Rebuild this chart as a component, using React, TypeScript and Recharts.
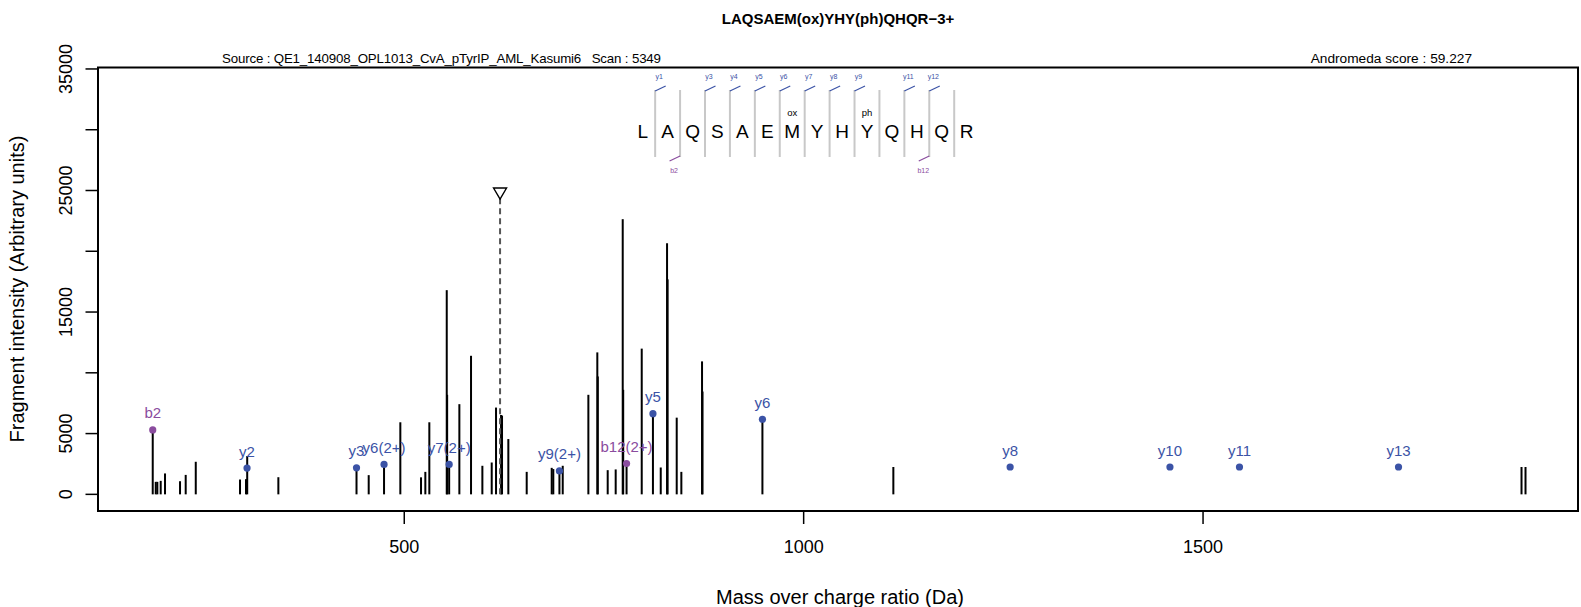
import React from 'react';
import { ComposedChart, Bar, Scatter, XAxis, YAxis, ReferenceLine } from 'recharts';

const FONT = '"Liberation Sans", Arial, Helvetica, sans-serif';
const BLUE = '#3B53A6';
const PURPLE = '#8A4C9E';

// fragment peaks (m/z, intensity)
const peakMz = [
  185.13, 188.9, 190.9, 195.1, 200.5, 219.3, 226.4, 239.0, 294.4, 301.9, 303.4, 342.4,
  440.24, 455.5, 474.7, 495.1, 521.0, 526.4, 531.4, 553.2, 553.7, 556.23, 569.0, 583.6,
  597.8, 609.5, 614.9, 621.2, 622.4, 630.3, 653.3, 684.6, 686.6, 694.27, 698.4, 730.5,
  741.7, 742.3, 754.7, 764.7, 773.5, 774.1, 778.31, 797.3, 811.33, 821.1, 829.0, 829.7,
  841.1, 846.9, 872.8, 873.4, 948.39, 1112.3, 1898.7, 1903.7,
];
const peakIntensity = [
  5300, 1030, 1030, 1110, 1720, 1080, 1600, 2680, 1220, 1250, 3150, 1410,
  2180, 1580, 2460, 5930, 1400, 1850, 5930, 16800, 8190, 2460, 7420, 11400,
  2350, 2620, 7140, 6530, 6480, 4550, 1850, 2180, 2080, 1930, 2350, 8190,
  11680, 9700, 1990, 2050, 22640, 8600, 2540, 11990, 6640, 2210, 20660, 17690,
  6310, 1850, 10940, 8460, 6180, 2250, 2250, 2250,
];

// matched ions
const ionLabels = ['b2', 'y2', 'y3', 'y6(2+)', 'y7(2+)', 'y9(2+)', 'b12(2+)', 'y5', 'y6', 'y8', 'y10', 'y11', 'y13'];
const ionMz = [185.13, 303.18, 440.24, 474.7, 556.23, 694.27, 778.31, 811.33, 948.39, 1258.49, 1458.57, 1545.6, 1744.7];
const ionIntensity = [5300, 2160, 2180, 2460, 2460, 1930, 2540, 6640, 6180, 2250, 2250, 2250, 2250];

const precursorMz = 619.93;
const precursorMark = 24750;

const xTicks = [500, 1000, 1500];
const yTicks = [0, 5000, 10000, 15000, 20000, 25000, 30000, 35000];
const yTickLabels = [0, 5000, 15000, 25000, 35000];

// sequence annotation
const residues = ['L', 'A', 'Q', 'S', 'A', 'E', 'M', 'Y', 'H', 'Y', 'Q', 'H', 'Q', 'R'];
const mods: Record<number, string> = { 6: 'ox', 9: 'ph' };
const yBreaks = [0, 2, 3, 4, 5, 6, 7, 8, 10, 11];
const yBreakLabels = ['y1', 'y3', 'y4', 'y5', 'y6', 'y7', 'y8', 'y9', 'y11', 'y12'];
const bBreaks = [1, 11];
const bBreakLabels = ['b2', 'b12'];

const W = 1581;
const H = 607;
const PLOT = { left: 98, top: 67.5, right: 1578, bottom: 511 };

const peaks = peakMz.map((mz, i) => ({ mz, intensity: peakIntensity[i] }));
const ions = ionMz.map((mz, i) => ({
  mz,
  intensity: ionIntensity[i],
  label: ionLabels[i],
  kind: ionLabels[i][0],
}));
const precursor = [{ mz: precursorMz, intensity: precursorMark }];

// stick: a 2px line centred on the bar's x position
function Stick(props: any) {
  const { x, y, width, height } = props;
  if (height == null || !isFinite(height)) return null;
  const cx = x + width / 2;
  return <rect x={cx - 1} y={y} width={2} height={height} fill="#000" />;
}

function IonDot(props: any) {
  const { cx, cy, payload } = props;
  const color = payload.kind === 'b' ? PURPLE : BLUE;
  return (
    <g>
      <circle cx={cx} cy={cy} r={3.6} fill={color} />
      <text x={cx} y={cy - 17} textAnchor="middle" dominantBaseline="central" fontSize={15} fontFamily={FONT} fill={color}>
        {payload.label}
      </text>
    </g>
  );
}

function Triangle(props: any) {
  const { cx, cy } = props;
  return (
    <polygon
      points={`${cx - 6.5},${cy - 5.5} ${cx + 6.5},${cy - 5.5} ${cx},${cy + 5.5}`}
      fill="#fff"
      stroke="#000"
      strokeWidth={1.4}
    />
  );
}

function YTick(props: any) {
  const { x, y, payload } = props;
  if (!yTickLabels.includes(payload.value)) return null;
  const tx = x - 19;
  return (
    <text x={tx} y={y} transform={`rotate(-90 ${tx} ${y})`} textAnchor="middle" dominantBaseline="central" fontSize={18} fontFamily={FONT} fill="#000">
      {payload.value}
    </text>
  );
}

function SequenceAnnotation() {
  const x0 = 642.7;
  const step = 24.92;
  const sepX = (i: number) => x0 + step * (i + 0.5);
  return (
    <g fontFamily={FONT}>
      {residues.slice(0, -1).map((_, i) => (
        <line key={'s' + i} x1={sepX(i)} x2={sepX(i)} y1={90} y2={157} stroke="#C8C8C8" strokeWidth={2} />
      ))}
      {residues.map((r, i) => (
        <text key={'r' + i} x={x0 + step * i} y={131} textAnchor="middle" dominantBaseline="central" fontSize={19} fill="#000">
          {r}
        </text>
      ))}
      {Object.keys(mods).map((k) => (
        <text key={'m' + k} x={x0 + step * Number(k)} y={112} textAnchor="middle" dominantBaseline="central" fontSize={9.5} fill="#000">
          {mods[Number(k)]}
        </text>
      ))}
      {yBreaks.map((b, i) => (
        <g key={'y' + b}>
          <line x1={sepX(b)} y1={91} x2={sepX(b) + 10.5} y2={86} stroke={BLUE} strokeWidth={1.2} />
          <text x={sepX(b) + 4} y={76} textAnchor="middle" dominantBaseline="central" fontSize={7} fill={BLUE}>
            {yBreakLabels[i]}
          </text>
        </g>
      ))}
      {bBreaks.map((b, i) => (
        <g key={'b' + b}>
          <line x1={sepX(b)} y1={156} x2={sepX(b) - 10.5} y2={161} stroke={PURPLE} strokeWidth={1.2} />
          <text x={sepX(b) - 6} y={170} textAnchor="middle" dominantBaseline="central" fontSize={7} fill={PURPLE}>
            {bBreakLabels[i]}
          </text>
        </g>
      ))}
    </g>
  );
}

export default function App() {
  return (
    <div style={{ position: 'absolute', left: 0, top: 0, width: W, height: H, background: '#fff', fontFamily: FONT }}>
      <ComposedChart
        width={W}
        height={H}
        data={peaks}
        margin={{ top: PLOT.top, right: W - PLOT.right, left: 0, bottom: 0 }}
      >
        <XAxis
          dataKey="mz"
          type="number"
          domain={[116.6, 1969.4]}
          allowDataOverflow
          ticks={xTicks}
          height={H - PLOT.bottom}
          tickSize={13}
          tickMargin={16}
          axisLine={false}
          tickLine={{ stroke: '#000', strokeWidth: 1.5 }}
          tick={{ fontSize: 18, fill: '#000', fontFamily: FONT }}
        />
        <YAxis
          dataKey="intensity"
          type="number"
          domain={[-1370, 35120]}
          allowDataOverflow
          ticks={yTicks}
          width={PLOT.left}
          tickSize={12.5}
          tickMargin={0}
          axisLine={false}
          tickLine={{ stroke: '#000', strokeWidth: 1.5 }}
          tick={<YTick />}
          interval={0}
        />
        <Bar dataKey="intensity" fill="#000" barSize={2} shape={<Stick />} isAnimationActive={false} />
        <ReferenceLine
          segment={[{ x: precursorMz, y: 0 }, { x: precursorMz, y: precursorMark }]}
          stroke="#555"
          strokeWidth={2}
          strokeDasharray="6 4"
        />
        <Scatter data={precursor} dataKey="intensity" shape={<Triangle />} isAnimationActive={false} />
        <Scatter data={ions} dataKey="intensity" shape={<IonDot />} isAnimationActive={false} />
      </ComposedChart>
      <svg width={W} height={H} style={{ position: 'absolute', left: 0, top: 0, pointerEvents: 'none' }}>
        <rect
          x={PLOT.left}
          y={PLOT.top}
          width={PLOT.right - PLOT.left}
          height={PLOT.bottom - PLOT.top}
          fill="none"
          stroke="#000"
          strokeWidth={2}
        />
        <text x={838} y={18} textAnchor="middle" dominantBaseline="central" fontSize={15} fontWeight="bold" fontFamily={FONT}>
          LAQSAEM(ox)YHY(ph)QHQR−3+
        </text>
        <text
          x={222}
          y={58.5}
          dominantBaseline="central"
          fontSize={13.3}
          fontFamily={FONT}
          xmlSpace="preserve"
          textLength={439}
          lengthAdjust="spacing"
        >
          {'Source : QE1_140908_OPL1013_CvA_pTyrIP_AML_Kasumi6   Scan : 5349'}
        </text>
        <text x={1472} y={58.5} textAnchor="end" dominantBaseline="central" fontSize={13.7} fontFamily={FONT}>
          Andromeda score : 59.227
        </text>
        <SequenceAnnotation />
        <text x={840} y={597} textAnchor="middle" dominantBaseline="central" fontSize={20} fontFamily={FONT}>
          Mass over charge ratio (Da)
        </text>
        <text
          x={17}
          y={289}
          transform="rotate(-90 17 289)"
          textAnchor="middle"
          dominantBaseline="central"
          fontSize={20}
          fontFamily={FONT}
        >
          Fragment intensity (Arbitrary units)
        </text>
      </svg>
    </div>
  );
}
